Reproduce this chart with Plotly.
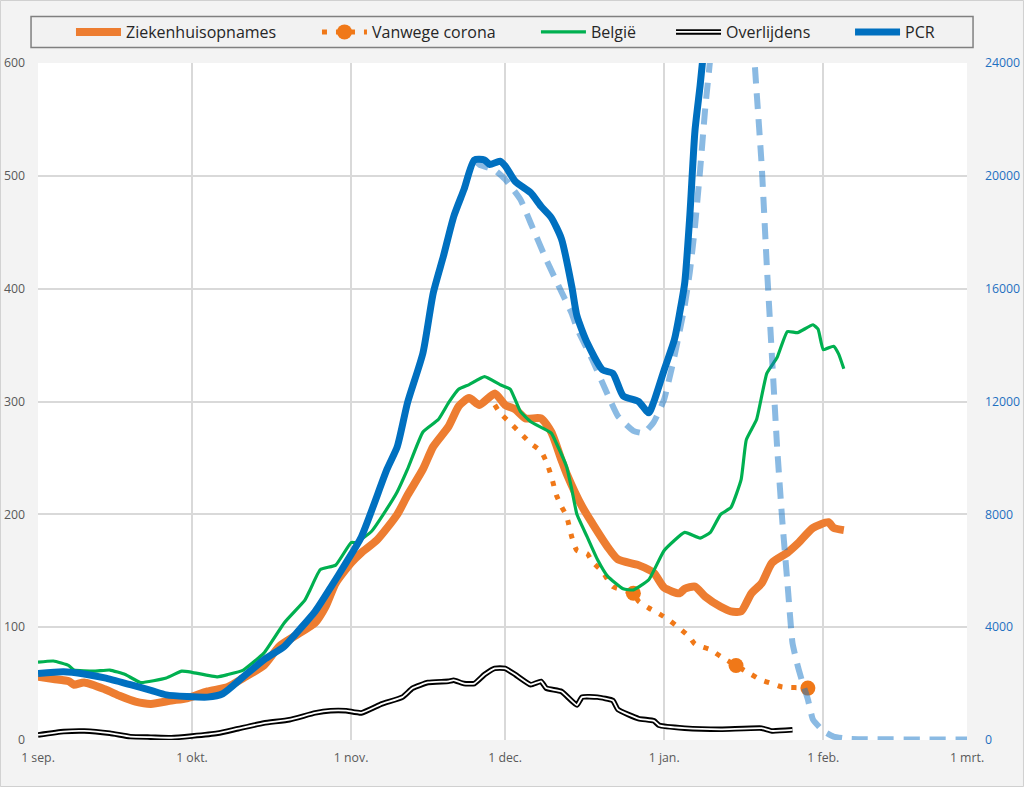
import pandas as pd
import plotly.graph_objects as go

START = pd.Timestamp("2021-09-01")

# Ziekenhuisopnames (left axis) - day offset from 1 sep, value
hosp_days = [0, 3, 6, 7, 9, 13, 16, 19, 22, 26, 29, 33, 37, 40, 44, 47, 50, 54, 56, 58, 61, 63, 66, 70,
             72, 75, 77, 80, 82, 84, 86, 89, 91, 93, 95, 98, 100, 102, 103, 106, 108, 111, 113, 117, 120,
             122, 125, 126, 128, 130, 133, 135, 137, 139, 141, 143, 146, 148, 151, 154, 155, 157]
hosp_vals = [56, 54, 52, 49, 51, 45, 39, 34, 32, 35, 37, 43, 47, 55, 66, 83, 92, 104, 118, 139, 157, 166, 177, 200,
             217, 240, 260, 278, 296, 303, 297, 307, 297, 293, 285, 285, 273, 248, 236, 207, 192, 171, 160, 155, 148,
             135, 130, 134, 136, 127, 118, 114, 114, 130, 139, 157, 166, 174, 188, 193, 188, 186]

# Vanwege corona (dotted, left axis)
covid_days = [89, 90, 92, 94, 96, 98, 99, 100, 101, 102, 103, 104, 105, 107, 108, 110, 112, 116, 117, 119,
              121, 123, 125, 127, 128, 131, 133, 136, 139, 141, 143, 145, 150, 152]
covid_vals = [297, 290, 281, 272, 263, 256, 247, 234, 217, 207, 198, 180, 168, 165, 158, 149, 136, 130, 123, 117,
              112, 106, 99, 91, 85, 80, 74, 66, 58, 53, 50, 47, 46, 44]
covid_mark_days = [116, 136, 150]
covid_mark_vals = [130, 66, 46]

# België (left axis)
be_days = [0, 3, 6, 7, 11, 14, 17, 20, 25, 28, 30, 35, 37, 40, 44, 48, 52, 53, 55, 58, 61, 62, 65, 68, 70,
           72, 75, 78, 80, 82, 84, 87, 90, 92, 94, 96, 100, 101, 103, 104, 105, 107, 109, 111, 114, 116,
           119, 122, 126, 129, 131, 133, 135, 137, 138, 140, 142, 144, 146, 148, 151, 152, 153, 155, 156, 157]
be_vals = [69, 70, 66, 62, 61, 62, 58, 51, 55, 61, 60, 56, 58, 62, 77, 104, 124, 133, 151, 155, 175, 175, 185, 205, 220,
           240, 273, 284, 299, 311, 315, 322, 315, 311, 291, 282, 272, 263, 242, 222, 200, 180, 160, 145, 134, 133,
           142, 168, 184, 179, 184, 200, 206, 231, 266, 284, 325, 339, 362, 361, 368, 364, 346, 349, 342, 329]

# Overlijdens (left axis)
death_days = [0, 5, 9, 14, 18, 22, 26, 30, 35, 39, 44, 49, 54, 57, 60, 63, 67, 71, 73, 76, 80, 81, 83, 85, 87,
              89, 91, 93, 96, 98, 99, 102, 105, 106, 109, 112, 113, 117, 120, 121, 126, 133, 141, 143, 147]
death_vals = [4.5, 7.5, 8, 6, 3, 2.5, 2, 3.5, 6, 10, 15, 18, 24, 26, 26, 24, 32, 38, 46, 51, 52, 53, 50, 50, 58,
              63.5, 63.5, 58, 49, 52, 46, 43, 31, 38, 38, 35, 27, 19, 17, 13, 10.5, 9.5, 10.5, 8, 9]

# PCR (right axis)
pcr_days = [0, 5, 9, 13, 18, 22, 25, 29, 33, 36, 40, 44, 48, 50, 54, 57, 60, 63, 68, 70, 72, 75, 77, 79, 81, 83,
            85, 87, 88, 90, 91, 93, 96, 98, 100, 102, 104, 105, 107, 110, 112, 114, 117, 119, 120, 122, 124,
            125, 126, 127, 128, 129, 130]
pcr_vals = [2360, 2420, 2340, 2200, 1960, 1760, 1600, 1540, 1520, 1640, 2240, 2840, 3320, 3720, 4560, 5400, 6280,
            7200, 9600, 10400, 11960, 13720, 15840, 17160, 18560, 19520, 20560, 20560, 20400, 20520, 20360, 19800,
            19400, 18920, 18520, 17760, 16080, 15040, 14080, 13120, 13000, 12200, 12000, 11600, 12000, 13120,
            14200, 15120, 16200, 18600, 21600, 23200, 25000]

# PCR, dashed (right axis)
pcr2_days = [85, 86, 89, 91, 94, 96, 99, 102, 104, 105, 108, 111, 113, 116, 118, 120, 122, 124, 126, 127, 128,
             129, 130, 131, 135, 139, 140, 141, 142, 143, 144, 145, 146, 147, 148, 149, 150, 151, 153, 155, 158, 181]
pcr2_vals = [20560, 20400, 20200, 19880, 19160, 18320, 17040, 15880, 15120, 14600, 13480, 12240, 11480, 10960,
             10880, 11280, 12080, 13600, 15400, 16600, 18200, 20200, 22400, 24200, 32000, 25600, 23000, 20360,
             16800, 13600, 10400, 7800, 5600, 3440, 2640, 2000, 1440, 720, 320, 120, 40, 20]

tick_dates = ["2021-09-01", "2021-10-01", "2021-11-01", "2021-12-01", "2022-01-01", "2022-02-01", "2022-03-01"]
tick_text = ["1 sep.", "1 okt.", "1 nov.", "1 dec.", "1 jan.", "1 feb.", "1 mrt."]
left_ticks = [0, 100, 200, 300, 400, 500, 600]
right_ticks = [0, 4000, 8000, 12000, 16000, 20000, 24000]


def to_dates(days):
    return [(START + pd.Timedelta(days=d)).strftime("%Y-%m-%d") for d in days]


ORANGE = "#ed7d31"
GREEN = "#00b050"
BLUE = "#0070c0"
LBLUE = "rgba(21,118,200,0.5)"
FONT = "Open Sans"
TICK = 12.3
SM = 0.6

fig = go.Figure()

fig.add_trace(go.Scatter(x=to_dates(hosp_days), y=hosp_vals, mode="lines", name="Ziekenhuisopnames",
                         line=dict(color=ORANGE, width=8, shape="spline", smoothing=SM), legend="legend"))
fig.add_trace(go.Scatter(x=to_dates(covid_days), y=covid_vals, mode="lines", name="Vanwege corona",
                         line=dict(color="#f07818", width=5, dash="5px,9px", shape="spline", smoothing=SM),
                         legend="legend2"))
fig.add_trace(go.Scatter(x=to_dates(covid_mark_days), y=covid_mark_vals, mode="markers", name="",
                         marker=dict(color="#f07818", size=15), legend="legend7"))
fig.add_trace(go.Scatter(x=to_dates(be_days), y=be_vals, mode="lines", name="België",
                         line=dict(color=GREEN, width=3.2, shape="spline", smoothing=0.4), legend="legend3"))
fig.add_trace(go.Scatter(x=to_dates(death_days), y=death_vals, mode="lines", name="Overlijdens",
                         line=dict(color="#000000", width=5.5, shape="spline", smoothing=0.4), legend="legend4"))
fig.add_trace(go.Scatter(x=to_dates(death_days), y=death_vals, mode="lines", name="",
                         line=dict(color="#ffffff", width=1.8, shape="spline", smoothing=0.4), legend="legend6"))
fig.add_trace(go.Scatter(x=to_dates(pcr2_days), y=pcr2_vals, mode="lines", showlegend=False,
                         line=dict(color=LBLUE, width=6, dash="16px,10px", shape="spline", smoothing=0.4),
                         yaxis="y2"))
fig.add_trace(go.Scatter(x=to_dates(pcr_days), y=pcr_vals, mode="lines", name="PCR",
                         line=dict(color=BLUE, width=7, shape="spline", smoothing=SM), yaxis="y2",
                         legend="legend5"))

GRID = "#d9d9d9"
fig.update_layout(
    width=1024, height=787,
    margin=dict(l=38, r=57, t=63, b=47, autoexpand=False),
    paper_bgcolor="#f3f3f3", plot_bgcolor="#ffffff",
    font=dict(family=FONT, size=TICK, color="#595959"),
    xaxis=dict(type="date", range=["2021-09-01", "2022-03-01"], tickvals=tick_dates, ticktext=tick_text,
               showgrid=True, gridcolor=GRID, gridwidth=1.5, zeroline=False, showline=False,
               ticks="", ticklabelstandoff=9, tickfont=dict(size=TICK, color="#595959")),
    yaxis=dict(range=[0, 600], tickvals=left_ticks, showgrid=True, gridcolor=GRID, gridwidth=1.5,
               zeroline=False, showline=False, ticks="", ticklabelstandoff=12,
               tickfont=dict(size=TICK, color="#595959")),
    yaxis2=dict(range=[0, 24000], tickvals=right_ticks, tickformat="d", overlaying="y", side="right",
                showgrid=False, zeroline=False, showline=False, ticks="", ticklabelstandoff=17,
                tickfont=dict(size=TICK, color="#1f70c1")),
)

leg_common = dict(bgcolor="rgba(0,0,0,0)", borderwidth=0, itemwidth=45, orientation="h",
                  yanchor="middle", xanchor="left", y=1.0458,
                  font=dict(family=FONT, size=16, color="#262626"), itemclick=False, itemdoubleclick=False)
fig.update_layout(
    legend=dict(x=0.0355, **leg_common),
    legend2=dict(x=0.3003, **leg_common),
    legend3=dict(x=0.5360, **leg_common),
    legend4=dict(x=0.6814, **leg_common),
    legend5=dict(x=0.8741, **leg_common),
    legend6=dict(x=0.6814, **leg_common),
    legend7=dict(x=0.3003, **leg_common),
)

fig.add_shape(type="rect", xref="paper", yref="paper", x0=-0.0404, x1=1.0608, y0=-0.0687, y1=1.0923,
              line=dict(color="#d0d0d0", width=1), fillcolor="rgba(0,0,0,0)", layer="below")
fig.add_shape(type="rect", xref="paper", yref="paper", x0=-0.0075, x1=1.0065, y0=1.0229, y1=1.0687,
              line=dict(color="#808080", width=1.5), fillcolor="#f2f2f2", layer="below")

fig.write_html("out.html", post_script="document.body.style.margin='0px';",
               config={"displayModeBar": False})
